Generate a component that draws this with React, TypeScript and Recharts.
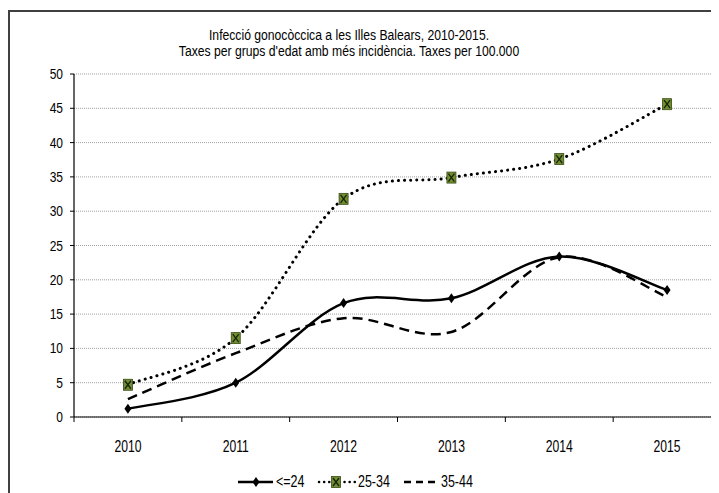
import { LineChart, Line, XAxis, YAxis, CartesianGrid } from "recharts";

const years = ["2010", "2011", "2012", "2013", "2014", "2015"];
const under24 = [1.2, 5.0, 16.6, 17.3, 23.4, 18.5];
const age25to34 = [4.7, 11.5, 31.8, 34.9, 37.6, 45.6];
const age35to44 = [2.6, 9.3, 14.4, 12.4, 23.3, 17.5];
const yTicks = [0, 5, 10, 15, 20, 25, 30, 35, 40, 45, 50];
const titleLines = [
  "Infecció gonocòccica a les Illes Balears, 2010-2015.",
  "Taxes per grups d'edat amb més incidència. Taxes per 100.000",
];
const seriesNames = ["<=24", "25-34", "35-44"];

const FONT = '"Liberation Sans", Arial, sans-serif';

const data = years.map((year, i) => ({
  x: i,
  year,
  a: under24[i],
  b: age25to34[i],
  c: age35to44[i],
}));

// boundaries between categories, where Excel puts its tick marks
const xTicks = [...years.map((_, i) => i - 0.5), years.length - 0.5];

// Excel style smoothed line (bezier, tension 1/6)
function excelCurve(context: any) {
  let pts: number[][] = [];
  return {
    areaStart() {},
    areaEnd() {},
    lineStart() {
      pts = [];
    },
    point(x: number, y: number) {
      pts.push([+x, +y]);
    },
    lineEnd() {
      if (!pts.length) return;
      context.moveTo(pts[0][0], pts[0][1]);
      for (let i = 0; i < pts.length - 1; i++) {
        const p0 = pts[i - 1] || pts[i];
        const p1 = pts[i];
        const p2 = pts[i + 1];
        const p3 = pts[i + 2] || pts[i + 1];
        context.bezierCurveTo(
          p1[0] + (p2[0] - p0[0]) / 6,
          p1[1] + (p2[1] - p0[1]) / 6,
          p2[0] - (p3[0] - p1[0]) / 6,
          p2[1] - (p3[1] - p1[1]) / 6,
          p2[0],
          p2[1]
        );
      }
    },
  };
}

const HALF_STEP = 647 / years.length / 2;

// condensed text, like the narrow Arial of the original
const NText = ({ x, y, size, sx, anchor, children }: any) => (
  <text
    transform={`translate(${x},${y}) scale(${sx},1)`}
    textAnchor={anchor}
    fontSize={size}
    fontFamily={FONT}
    fill="#000"
  >
    {children}
  </text>
);

const YearTick = (props: any) => {
  const { x, y, payload } = props;
  const idx = payload.value + 0.5;
  if (idx >= years.length) return null;
  return (
    <NText x={x + HALF_STEP} y={y + 28} size={16} sx={0.76} anchor="middle">
      {years[idx]}
    </NText>
  );
};

const ValueTick = (props: any) => {
  const { x, y, payload } = props;
  return (
    <NText x={x} y={y + 5} size={15} sx={0.8} anchor="end">
      {payload.value}
    </NText>
  );
};

const Diamond = (props: any) => {
  const { cx, cy } = props;
  if (cx == null || cy == null) return null;
  return <path d={`M${cx},${cy - 5} L${cx + 3.5},${cy} L${cx},${cy + 5} L${cx - 3.5},${cy} Z`} fill="#000" />;
};

const XSquare = (props: any) => {
  const { cx, cy } = props;
  if (cx == null || cy == null) return null;
  return (
    <g>
      <rect x={cx - 4.5} y={cy - 5.5} width={9} height={11} fill="#6f8f2f" stroke="#3a4a18" strokeWidth={0.8} />
      <path d={`M${cx - 3},${cy - 4} L${cx + 3},${cy + 4} M${cx + 3},${cy - 4} L${cx - 3},${cy + 4}`} stroke="#1a2008" strokeWidth={1.3} />
    </g>
  );
};

function Overlay() {
  return (
    <svg width={711} height={485} style={{ position: "absolute", left: 0, top: 0, pointerEvents: "none" }}>
      <NText x={341} y={32} size={14} sx={0.87} anchor="middle">
        {titleLines[0]}
      </NText>
      <NText x={341} y={48} size={14} sx={0.87} anchor="middle">
        {titleLines[1]}
      </NText>

      <line x1={230} y1={474} x2={265} y2={474} stroke="#000" strokeWidth={2.5} />
      <Diamond cx={248} cy={474} />
      <NText x={268} y={479} size={16} sx={0.78} anchor="start">
        {seriesNames[0]}
      </NText>

      <line x1={311} y1={474} x2={347} y2={474} stroke="#000" strokeWidth={2.5} strokeDasharray="0.1 5" strokeLinecap="round" />
      <XSquare cx={328} cy={474} />
      <NText x={350} y={479} size={16} sx={0.78} anchor="start">
        {seriesNames[1]}
      </NText>

      <line x1={396} y1={474} x2={430} y2={474} stroke="#000" strokeWidth={2.5} strokeDasharray="7 5" />
      <NText x={433} y={479} size={16} sx={0.78} anchor="start">
        {seriesNames[2]}
      </NText>
    </svg>
  );
}

export default function App() {
  return (
    <div style={{ position: "relative", width: 711, height: 485, overflow: "hidden", background: "#fff" }}>
      <div
        style={{
          position: "absolute",
          left: 0,
          top: 2,
          width: 800,
          height: 600,
          border: "2px solid #404040",
          boxSizing: "border-box",
        }}
      />
      <div style={{ position: "absolute", left: 0, top: 0 }}>
        <LineChart width={740} height={485} data={data} margin={{ top: 66, right: 27, bottom: 46, left: 16 }}>
          <CartesianGrid vertical={false} stroke="#a0a0a0" strokeDasharray="1 1" />
          <XAxis
            dataKey="x"
            type="number"
            domain={[-0.5, years.length - 0.5]}
            ticks={xTicks}
            interval={0}
            height={30}
            tick={<YearTick />}
            tickSize={5}
            axisLine={{ stroke: "#000", strokeWidth: 1.2 }}
            tickLine={{ stroke: "#000" }}
          />
          <YAxis
            domain={[0, 50]}
            ticks={yTicks}
            interval={0}
            width={50}
            tickSize={4}
            tickMargin={7}
            axisLine={{ stroke: "#000", strokeWidth: 1.2 }}
            tickLine={{ stroke: "#000" }}
            tick={<ValueTick />}
          />
          <Line
            dataKey="c"
            name={seriesNames[2]}
            type={excelCurve as any}
            stroke="#000"
            strokeWidth={2.5}
            strokeDasharray="10 6"
            dot={false}
            activeDot={false}
            isAnimationActive={false}
          />
          <Line
            dataKey="b"
            name={seriesNames[1]}
            type={excelCurve as any}
            stroke="#000"
            strokeWidth={3}
            strokeDasharray="0.1 6"
            strokeLinecap="round"
            dot={<XSquare />}
            activeDot={false}
            isAnimationActive={false}
          />
          <Line
            dataKey="a"
            name={seriesNames[0]}
            type={excelCurve as any}
            stroke="#000"
            strokeWidth={2.5}
            dot={<Diamond />}
            activeDot={false}
            isAnimationActive={false}
          />
        </LineChart>
      </div>
      <Overlay />
    </div>
  );
}
